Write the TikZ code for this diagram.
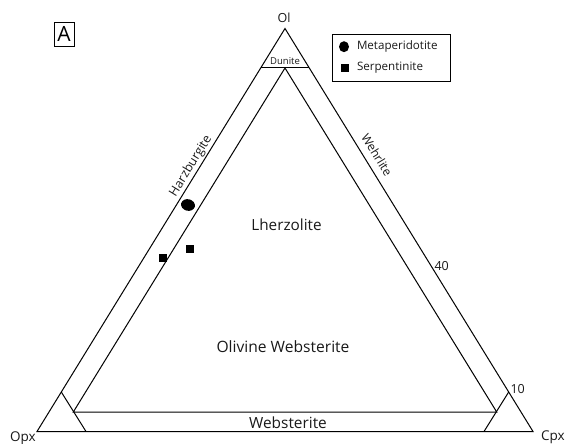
\documentclass[tikz,border=0pt]{standalone}
\usepackage{fontspec}
\setmainfont{Open Sans}
\begin{document}
\begin{tikzpicture}[x=1pt,y=-1pt,line width=1pt,
  lbl/.style={inner sep=0pt,text=black!90},
  mark sq/.style={fill=black,minimum size=8.5pt,inner sep=0pt,draw=none},
  legbox/.style={draw,line width=0.8pt}]
\useasboundingbox (0,0) rectangle (568,444);
% corners
\coordinate (Ol) at (285,28.5);
\coordinate (Opx) at (37,431.5);
\coordinate (Cpx) at (533,431.5);
% inner triangle
\coordinate (iA) at (285,68);
\coordinate (iL) at (73.3,412);
\coordinate (iR) at (496.7,412);
% dunite line
\coordinate (dL) at (260.7,68);
\coordinate (dR) at (309.3,68);
% websterite corner lines
\coordinate (wL1) at (61.3,392);
\coordinate (wL2) at (86,431.5);
\coordinate (wR1) at (508.7,392);
\coordinate (wR2) at (484,431.5);
\draw (Ol) -- (Opx) -- (Cpx) -- cycle;
\draw (iA) -- (iL) -- (iR) -- cycle;
\draw (dL) -- (dR);
\draw (wL1) -- (wL2);
\draw (wR1) -- (wR2);
% corner labels
\node[lbl,font=\fontsize{12.5}{14}\selectfont] (tOl) at (284,18) {Ol};
\node[lbl,font=\fontsize{13.5}{15}\selectfont] (tOpx) at (23,438) {Opx};
\node[lbl,font=\fontsize{13.5}{15}\selectfont] (tCpx) at (553,437) {Cpx};
% field labels
\node[lbl,font=\fontsize{9.5}{11}\selectfont] (tDun) at (285,61.5) {Dunite};
\node[lbl,font=\fontsize{15.3}{17}\selectfont] (tLhz) at (286.5,225) {Lherzolite};
\node[lbl,font=\fontsize{15.6}{17}\selectfont] (tOW) at (283,346.5) {Olivine Websterite};
\node[lbl,font=\fontsize{15.4}{17}\selectfont] (tWeb) at (288,422.5) {Websterite};
\node[lbl,font=\fontsize{12.5}{15}\selectfont,rotate=58.4] (tHz) at (191,166) {Harzburgite};
\node[lbl,font=\fontsize{12}{14}\selectfont,rotate=-58.4] (tWh) at (377,155) {Wehrlite};
\node[lbl,font=\fontsize{12.5}{14}\selectfont,anchor=west] (t40) at (434,266) {40};
\node[lbl,font=\fontsize{12.5}{14}\selectfont,anchor=west] (t10) at (510,389) {10};
% panel letter
\node[draw,line width=0.8pt,minimum width=20pt,minimum height=24pt,inner sep=0pt,font=\fontsize{21}{23}\selectfont] (pA) at (64,34) {A};
% legend
\draw[legbox] (332,34) rectangle (450,81);
\fill (344,46.7) ellipse (5pt and 5.5pt);
\node[mark sq,minimum size=8pt] (lsq) at (345,67.7) {};
\node[lbl,anchor=west,font=\fontsize{11.6}{13}\selectfont] (tMeta) at (356.5,46.7) {Metaperidotite};
\node[lbl,anchor=west,font=\fontsize{11.6}{13}\selectfont] (tSerp) at (356.5,67.7) {Serpentinite};
% data points
\fill[rotate around={-15:(188,205)}] (188,205) ellipse (7pt and 5.8pt);
\node[mark sq] (p1) at (190,249) {};
\node[mark sq] (p2) at (163,258) {};
\end{tikzpicture}
\end{document}
